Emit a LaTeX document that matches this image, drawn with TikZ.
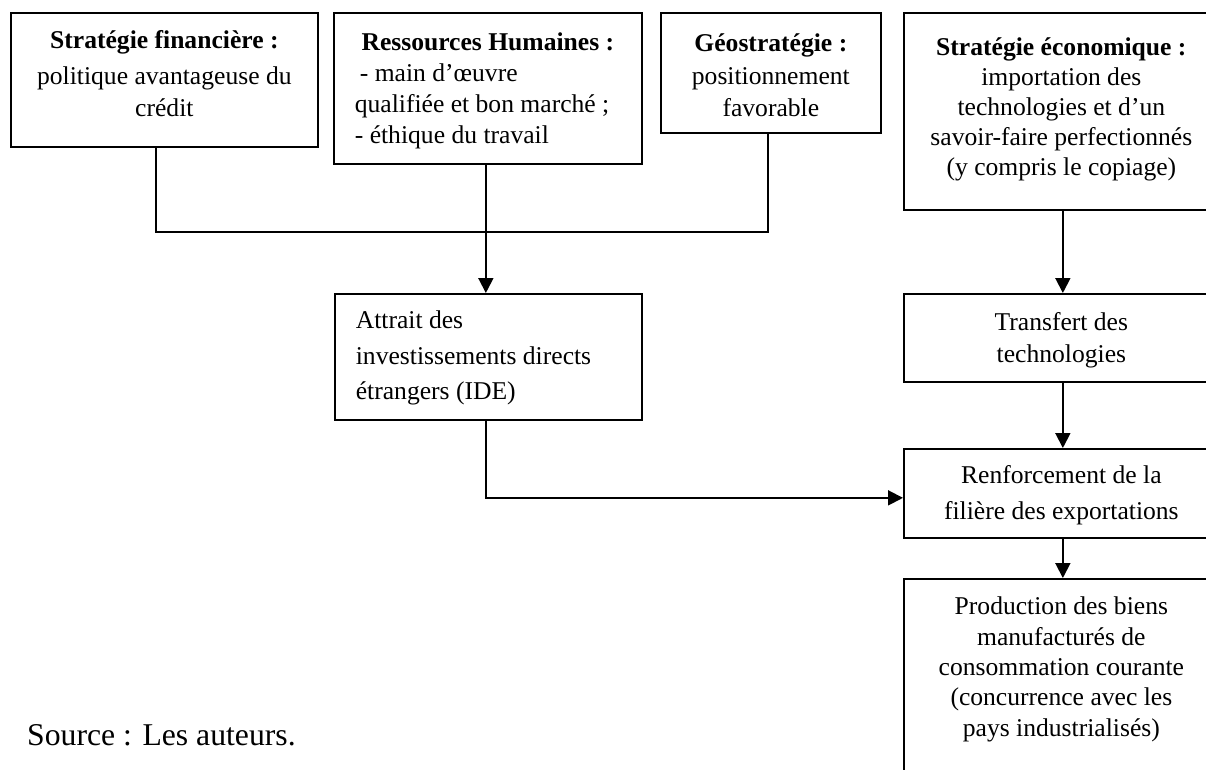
\documentclass[tikz,border=0pt]{standalone}
\usepackage{fontspec}
\setmainfont{Liberation Serif}
\usetikzlibrary{arrows.meta}
\tikzset{
  boxnode/.style={draw, line width=1.7pt, inner sep=0pt, anchor=north west, font=\fontsize{25.6}{30}\selectfont},
  linkline/.style={line width=1.9pt},
  linkarrow/.style={line width=1.9pt, -{Triangle[length=15pt,width=15pt]}},
}
\begin{document}
\begin{tikzpicture}[x=1pt,y=-1pt]
\useasboundingbox (0,0) rectangle (1206,769);
\clip (0,0) rectangle (1206,769);
\fill[white] (0,0) rectangle (1206,769);
% top row
\node[boxnode] (b1) at (10,12) {\parbox[c][134pt][t]{307pt}{\fontsize{25.6}{32}\selectfont\centering\rule{0pt}{36pt}\textbf{Stratégie financière :}\\[4pt] politique avantageuse du\\ crédit}};
\node[boxnode] (b2) at (333,12) {\parbox[c][151pt][t]{308pt}{\fontsize{25.6}{31}\selectfont\raggedright\leftskip=21pt \rule{0pt}{38pt}\makebox[266pt][c]{\textbf{Ressources Humaines :}}\\ \hspace*{5pt}- main d’œuvre\\ qualifiée et bon marché ;\\ - éthique du travail}};
\node[boxnode] (b3) at (660,12) {\parbox[c][120pt][t]{220pt}{\fontsize{25.6}{32.5}\selectfont\centering\rule{0pt}{39pt}\textbf{Géostratégie :}\\ positionnement\\ favorable}};
\node[boxnode] (b4) at (903,12) {\parbox[c][197pt][t]{315pt}{\centering\rule{0pt}{43pt}\textbf{Stratégie économique :}\\ importation des\\ technologies et d’un\\ savoir-faire perfectionnés\\ (y compris le copiage)}};
% middle
\node[boxnode] (att) at (334,293) {\parbox[c][126pt][t]{307pt}{\fontsize{25.6}{35.5}\selectfont\raggedright\leftskip=21pt \rule{0pt}{35pt}Attrait des\\ investissements directs\\ étrangers (IDE)}};
\node[boxnode] (tr) at (903,293) {\parbox[c][88pt][t]{315pt}{\fontsize{25.6}{32}\selectfont\centering\rule{0pt}{37pt}Transfert des\\ technologies}};
\node[boxnode] (ren) at (903,448) {\parbox[c][89pt][t]{315pt}{\fontsize{25.6}{36}\selectfont\centering\rule{0pt}{35pt}Renforcement de la\\ filière des exportations}};
\node[boxnode] (prod) at (903,578) {\parbox[c][212pt][t]{315pt}{\fontsize{25.6}{30.3}\selectfont\centering\rule{0pt}{36pt}Production des biens\\ manufacturés de\\ consommation courante\\ (concurrence avec les\\ pays industrialisés)}};
% source
\node[anchor=base west, inner sep=0pt, font=\fontsize{31.7}{36}\selectfont] (src) at (27,745) {Source : Les auteurs.};
% connectors
\coordinate (j) at (485,232);
\draw[linkline] ([xshift=-8.5pt]b1.south) |- (j);
\draw[linkline] ([xshift=-3pt]b3.south) |- (j);
\draw[linkarrow] ([xshift=-2pt]b2.south) -- ([xshift=-2.5pt]att.north);
\draw[linkarrow] ([xshift=1.5pt]b4.south) -- ([xshift=1.5pt]tr.north);
\draw[linkarrow] ([xshift=1.5pt]tr.south) -- ([xshift=1.5pt]ren.north);
\draw[linkarrow] ([xshift=1.5pt]ren.south) -- ([xshift=1.5pt]prod.north);
\draw[linkarrow] ([xshift=-2.5pt]att.south) |- ([yshift=-4.5pt]ren.west);
\end{tikzpicture}
\end{document}
